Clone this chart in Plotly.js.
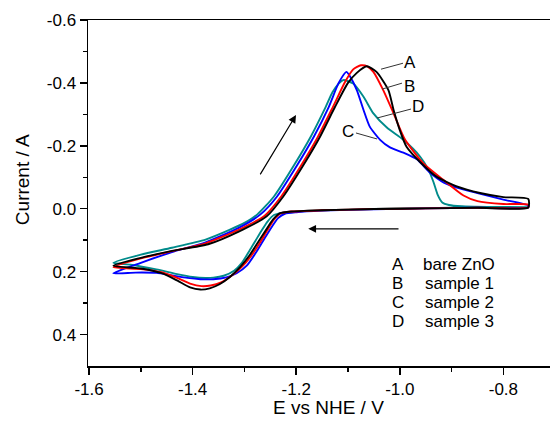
<!DOCTYPE html>
<html>
<head>
<meta charset="utf-8">
<script src="https://cdn.plot.ly/plotly-3.0.1.min.js"></script>
<style>html,body{margin:0;padding:0;background:#fff;}#chart{width:550px;height:426px;}</style>
</head>
<body>
<div id="chart"></div>
<script>
// A: bare ZnO (black) - forward scan then return scan
const potA = [-1.553,-1.50,-1.44,-1.37,-1.31,-1.257,-1.225,-1.186,-1.154,-1.125,-1.10,-1.083,-1.064,-1.045,-1.022,-1.012,-1.0,-0.987,-0.955,-0.929,-0.89,-0.845,-0.80,-0.752,
              -0.752,-0.85,-0.95,-1.05,-1.15,-1.21,-1.232,-1.245,-1.26,-1.275,-1.29,-1.308,-1.328,-1.348,-1.367,-1.385,-1.405,-1.43,-1.46,-1.50,-1.553];
const curA = [0.181,0.156,0.134,0.113,0.072,0.024,-0.039,-0.139,-0.229,-0.324,-0.40,-0.432,-0.453,-0.435,-0.377,-0.314,-0.25,-0.197,-0.139,-0.102,-0.071,-0.050,-0.037,-0.031,
              -0.004,-0.003,-0.001,0.001,0.005,0.009,0.015,0.035,0.072,0.11,0.148,0.185,0.217,0.24,0.253,0.257,0.25,0.228,0.205,0.19,0.181];
// B: sample 1 (red)
const potB = [-1.553,-1.50,-1.44,-1.375,-1.31,-1.261,-1.229,-1.190,-1.158,-1.129,-1.105,-1.09,-1.075,-1.062,-1.051,-1.032,-1.012,-0.99,-0.955,-0.916,-0.877,-0.85,-0.80,-0.752,
              -0.752,-0.85,-0.95,-1.05,-1.15,-1.21,-1.23,-1.243,-1.257,-1.272,-1.287,-1.305,-1.325,-1.345,-1.365,-1.383,-1.405,-1.43,-1.46,-1.50,-1.553];
const curB = [0.186,0.158,0.135,0.11,0.066,0.022,-0.039,-0.139,-0.229,-0.324,-0.405,-0.443,-0.456,-0.452,-0.435,-0.377,-0.303,-0.22,-0.145,-0.092,-0.042,-0.024,-0.015,-0.013,
              -0.004,-0.003,-0.001,0.001,0.005,0.009,0.015,0.035,0.072,0.113,0.15,0.185,0.213,0.234,0.244,0.246,0.238,0.22,0.202,0.192,0.186];
// C: sample 2 (blue)
const potC = [-1.553,-1.50,-1.44,-1.375,-1.31,-1.269,-1.237,-1.198,-1.166,-1.137,-1.118,-1.103,-1.096,-1.083,-1.070,-1.058,-1.038,-1.019,-0.993,-0.967,-0.942,-0.915,-0.89,-0.85,-0.80,-0.752,
              -0.752,-0.85,-0.95,-1.05,-1.15,-1.20,-1.222,-1.235,-1.25,-1.265,-1.278,-1.295,-1.315,-1.335,-1.36,-1.385,-1.41,-1.44,-1.47,-1.51,-1.553];
const curC = [0.205,0.172,0.138,0.107,0.06,0.018,-0.039,-0.139,-0.229,-0.324,-0.40,-0.435,-0.42,-0.377,-0.314,-0.261,-0.219,-0.195,-0.178,-0.157,-0.115,-0.083,-0.067,-0.050,-0.029,-0.010,
              -0.004,-0.003,-0.001,0.002,0.006,0.011,0.016,0.03,0.065,0.105,0.14,0.18,0.205,0.218,0.224,0.224,0.22,0.212,0.204,0.203,0.205];
// D: sample 3 (teal)
const potD = [-1.553,-1.50,-1.44,-1.375,-1.33,-1.30,-1.275,-1.243,-1.204,-1.172,-1.143,-1.13,-1.118,-1.109,-1.09,-1.07,-1.051,-1.025,-0.993,-0.961,-0.945,-0.935,-0.927,-0.918,-0.905,-0.88,-0.83,-0.752,
              -0.752,-0.85,-0.95,-1.05,-1.15,-1.20,-1.228,-1.243,-1.255,-1.267,-1.278,-1.29,-1.305,-1.32,-1.34,-1.36,-1.375,-1.40,-1.43,-1.47,-1.52,-1.553];
const curD = [0.172,0.146,0.124,0.098,0.068,0.045,0.018,-0.039,-0.139,-0.229,-0.324,-0.37,-0.398,-0.409,-0.398,-0.356,-0.303,-0.258,-0.219,-0.166,-0.125,-0.085,-0.045,-0.020,-0.012,-0.008,-0.006,-0.005,
              -0.005,-0.004,-0.002,0.001,0.005,0.009,0.013,0.02,0.04,0.07,0.10,0.133,0.172,0.197,0.213,0.219,0.22,0.217,0.208,0.193,0.178,0.172];

const seriesNames = ['bare ZnO','sample 1','sample 2','sample 3'];
const seriesLetters = ['A','B','C','D'];
const seriesColors = ['#000000','#ff0000','#0000ff','#008b8b'];

const xTickVals = [-1.6,-1.4,-1.2,-1.0,-0.8];
const xTickText = ['-1.6','-1.4','-1.2','-1.0','-0.8'];
const xMinorVals = [-1.5,-1.3,-1.1,-0.9,-0.7];
const yTickVals = [-0.6,-0.4,-0.2,0.0,0.2,0.4];
const yTickText = ['-0.6','-0.4','-0.2','0.0','0.2','0.4'];
const yMinorVals = [-0.5,-0.3,-0.1,0.1,0.3];

const pots = [potA,potB,potC,potD];
const curs = [curA,curB,curC,curD];
// draw order: teal, blue, red, black on top
const order = [3,2,1,0];
const traces = order.map(i => ({
  x: pots[i], y: curs[i], type:'scatter', mode:'lines', name: seriesNames[i],
  line:{color: seriesColors[i], width:1.9, shape:'spline', smoothing:0.6},
  showlegend:false, hoverinfo:'skip'
}));

const F = 'Liberation Sans, Arial, sans-serif';
const annotations = [];
// curve labels (A,B,C,D)
const labelPos = {A:[-0.9803,-0.4658], B:[-0.9822,-0.3897], C:[-1.100,-0.2471], D:[-0.9649,-0.3264]};
Object.keys(labelPos).forEach(k => annotations.push({x:labelPos[k][0], y:labelPos[k][1], xref:'x', yref:'y', text:k, showarrow:false, font:{family:F,size:17,color:'#000'}}));
// legend-like text block
const legY = [0.1774,0.2376,0.2978,0.358];
seriesLetters.forEach((L,i) => {
  annotations.push({x:-1.0035, y:legY[i], xref:'x', yref:'y', text:L, showarrow:false, font:{family:F,size:17,color:'#000'}});
  annotations.push({x:(i===0?-0.960:-0.956), y:legY[i], xref:'x', yref:'y', xanchor:'left', text:seriesNames[i], showarrow:false, font:{family:F,size:17,color:'#000'}});
});
// scan direction arrows
annotations.push({x:-1.2004, y:-0.298, ax:-1.2712, ay:-0.1046, xref:'x', yref:'y', axref:'x', ayref:'y', text:'', showarrow:true, arrowhead:2, arrowsize:1.3, arrowwidth:1.2, arrowcolor:'#000'});
annotations.push({x:-1.1767, y:0.064, ax:-0.9996, ay:0.064, xref:'x', yref:'y', axref:'x', ayref:'y', text:'', showarrow:true, arrowhead:2, arrowsize:1.3, arrowwidth:1.2, arrowcolor:'#000'});
// axis titles
annotations.push({x:-0.1429, y:0.54, xref:'paper', yref:'paper', xanchor:'center', yanchor:'middle', text:'Current / A', textangle:-90, showarrow:false, font:{family:F,size:19,color:'#000'}});
annotations.push({x:0.5216, y:-0.1196, xref:'paper', yref:'paper', xanchor:'center', yanchor:'middle', text:'E vs NHE / V', showarrow:false, font:{family:F,size:19,color:'#000'}});

const leaderColor = '#333';
const shapes = [
  {type:'line', xref:'x', yref:'y', x0:-1.0363, y0:-0.4436, x1:-0.9938, y1:-0.4626, line:{color:leaderColor,width:1}},
  {type:'line', xref:'x', yref:'y', x0:-1.0344, y0:-0.3802, x1:-0.9958, y1:-0.3992, line:{color:leaderColor,width:1}},
  {type:'line', xref:'x', yref:'y', x0:-1.0440, y0:-0.2883, x1:-0.9784, y1:-0.3169, line:{color:leaderColor,width:1}},
  {type:'line', xref:'x', yref:'y', x0:-1.0846, y0:-0.2408, x1:-1.0440, y1:-0.2218, line:{color:leaderColor,width:1}}
];

const layout = {
  width:550, height:426,
  margin:{l:88, r:0, t:19.5, b:59.5},
  paper_bgcolor:'#fff', plot_bgcolor:'#fff',
  font:{family:F, size:17, color:'#000'},
  xaxis:{
    range:[-1.602,-0.710], tickmode:'array', tickvals:xTickVals, ticktext:xTickText,
    ticks:'outside', ticklen:7, tickwidth:1.5, tickcolor:'#000',
    showline:true, linewidth:1.5, linecolor:'#000', mirror:true,
    showgrid:false, zeroline:false,
    minor:{tickmode:'array', tickvals:xMinorVals, ticks:'outside', ticklen:4, tickwidth:1.5, tickcolor:'#000', showgrid:false},
    tickfont:{family:F,size:17,color:'#000'}
  },
  yaxis:{
    range:[0.5,-0.6], tickmode:'array', tickvals:yTickVals, ticktext:yTickText,
    ticks:'outside', ticklen:7, tickwidth:1.5, tickcolor:'#000',
    showline:true, linewidth:1.5, linecolor:'#000', mirror:false,
    showgrid:false, zeroline:false,
    minor:{tickmode:'array', tickvals:yMinorVals, ticks:'outside', ticklen:4, tickwidth:1.5, tickcolor:'#000', showgrid:false},
    tickfont:{family:F,size:17,color:'#000'}
  },
  annotations:annotations,
  shapes:shapes
};

Plotly.newPlot('chart', traces, layout, {displayModeBar:false, staticPlot:true});
</script>
</body>
</html>
